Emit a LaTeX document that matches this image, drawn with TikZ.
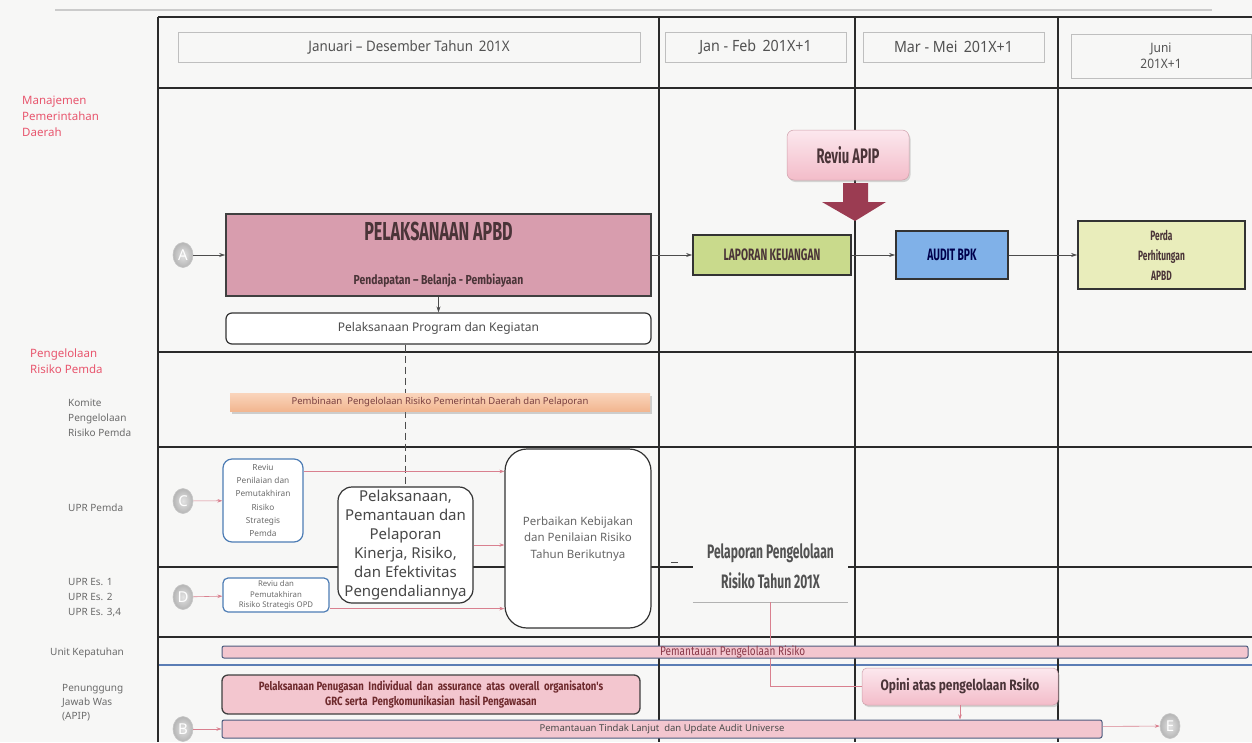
\documentclass[tikz,border=0pt]{standalone}
\usepackage{fontspec}
\setmainfont{Noto Sans}
\newfontfamily\condfont[FakeStretch=0.62]{Fira Sans}
\newfontfamily\midcond[FakeStretch=0.8]{Fira Sans}
\newfontfamily\narrowfont[FakeStretch=0.92]{Noto Sans}
\usetikzlibrary{arrows.meta,shadows,calc,shapes.geometric}

\definecolor{paper}{HTML}{F7F7F6}
\definecolor{lblred}{HTML}{E8566E}
\definecolor{lblgray}{HTML}{6B6B6B}
\definecolor{gridline}{HTML}{2A2A2A}
\definecolor{apbdpink}{HTML}{D89DAE}
\definecolor{inkbrown}{HTML}{4A3438}
\definecolor{lapgreen}{HTML}{C9DA8C}
\definecolor{bpkblue}{HTML}{80B1E8}
\definecolor{perdayellow}{HTML}{E9EDBB}
\definecolor{apiptop}{HTML}{FCE8EE}
\definecolor{apipbot}{HTML}{F3BCC9}
\definecolor{arrowred}{HTML}{9B3C52}
\definecolor{peachtop}{HTML}{FAD5BC}
\definecolor{peachbot}{HTML}{F2B690}
\definecolor{riskblue}{HTML}{4E7DB5}
\definecolor{barpink}{HTML}{F3C6CF}
\definecolor{barline}{HTML}{4D5C7E}
\definecolor{linkred}{HTML}{D9808F}
\definecolor{lanesep}{HTML}{5B7DB5}
\definecolor{barink}{HTML}{8B3A4A}
\definecolor{guideink}{HTML}{7A4040}

\tikzset{
  gridrule/.style={draw=gridline, line width=1.1pt},
  hdrbox/.style={draw=gray!50, line width=0.6pt, minimum height=30, inner sep=2pt,
    text=black!68, font=\narrowfont\fontsize{15.5}{18}\selectfont, align=center},
  redlbl/.style={anchor=north west, inner sep=0pt, align=left, text=lblred,
    font=\fontsize{11.5}{16}\selectfont},
  graylbl/.style={anchor=north west, inner sep=0pt, align=left, text=lblgray,
    font=\fontsize{10}{15}\selectfont},
  letter/.style={ellipse, minimum width=20, minimum height=25, inner sep=0pt,
    draw=gray!45, line width=0.6pt, inner color=gray!22, outer color=gray!58,
    text=white, font=\bfseries\fontsize{15}{15}\selectfont},
  darkbox/.style={draw=black!80, line width=1.8pt, inner sep=2pt, align=center,
    text=inkbrown, font=\condfont\bfseries\fontsize{16.5}{18}\selectfont},
  roundbox/.style={draw=black!80, line width=1.2pt, rounded corners=6, fill=white,
    align=center, inner sep=1pt},
  riskbox/.style={draw=riskblue, line width=1.2pt, rounded corners=9, fill=white,
    align=center, text=lblgray, inner sep=1pt, font=\fontsize{8.3}{13.2}\selectfont},
  pinkbar/.style={draw=barline, line width=1pt, rounded corners=2, fill=barpink,
    inner sep=0pt, align=center},
  softbox/.style={rounded corners=7, draw=apipbot!85!black, line width=0.5pt,
    top color=apiptop, bottom color=apipbot, align=center, inner sep=2pt,
    drop shadow={shadow xshift=1.5pt, shadow yshift=-2pt, opacity=0.3}},
  flow/.style={draw=gray!60!black, line width=0.6pt, -{Stealth[length=6pt,width=4pt]}},
  risklink/.style={draw=linkred, line width=0.6pt, -{Stealth[length=5pt,width=3.5pt]}},
}

\begin{document}
\begin{tikzpicture}[x=1pt,y=-1pt]
% paper
\fill[paper] (0,0) rectangle (1252,742);
\useasboundingbox (0,0) rectangle (1252,742);

% faint rule across the top
\draw[gray!55, line width=2.2pt, opacity=0.7] (55,10) -- (1212,10);

% swimlane grid
\draw[gridrule] (158,17) -- (1252,17);
\foreach \yy in {88,352,447,567,637} \draw[gridrule] (158,\yy) -- (1252,\yy);
\draw[lanesep, line width=1.2pt] (158,665) -- (1252,665);
\foreach \xx in {158,659,855,1058} \draw[gridrule] (\xx,17) -- (\xx,742);

% period headers
\node[hdrbox, minimum width=462, font=\narrowfont\fontsize{14.5}{18}\selectfont] (hjan) at (409,47) {Januari – Desember Tahun\, 201X};
\node[hdrbox, minimum width=181] (hjf) at (755.5,47) {Jan - Feb\, 201X+1};
\node[hdrbox, minimum width=181] (hmm) at (953.5,47) {Mar - Mei\, 201X+1};
\node[hdrbox, minimum width=180, minimum height=44,
  font=\narrowfont\fontsize{13}{16}\selectfont] (hjun) at (1161,56) {Juni\\201X+1};

% lane labels
\node[redlbl] (lmgmt) at (22,96) {Manajemen\\Pemerintahan\\Daerah};
\node[redlbl] (lrisk) at (30,349) {Pengelolaan\\Risiko Pemda};
\node[graylbl] (lkomite) at (68,399) {Komite\\Pengelolaan\\Risiko Pemda};
\node[graylbl, anchor=west] (lupr) at (68,508) {UPR Pemda};
\node[graylbl] (lupres) at (68,578) {UPR Es. 1\\UPR Es. 2\\UPR Es. 3,4};
\node[graylbl, anchor=west] (lunit) at (50,653) {Unit Kepatuhan};
\node[graylbl, font=\fontsize{10}{14}\selectfont] (lpj) at (62,684) {Penunggung\\Jawab Was\\(APIP)};

% budget execution lane
\node[letter] (A) at (183,255) {A};
\node[draw=black!75, line width=1.6pt, fill=apbdpink, minimum width=425, minimum height=82,
  align=center, text=inkbrown, inner sep=0pt,
  font=\midcond\bfseries\fontsize{13}{44}\selectfont] (apbd) at (438.5,255)
  {{\condfont\fontsize{26}{28}\selectfont PELAKSANAAN APBD}\\Pendapatan – Belanja - Pembiayaan};
\node[roundbox, minimum width=425, minimum height=31, text=black!70,
  font=\fontsize{12}{14}\selectfont] (prog) at (438.5,328.5) {Pelaksanaan Program dan Kegiatan};
\node[darkbox, fill=lapgreen, minimum width=158, minimum height=40] (lap) at (772,255) {LAPORAN KEUANGAN};
\node[darkbox, fill=bpkblue, minimum width=112, minimum height=48, text=black!70!blue] (bpk) at (952,255) {AUDIT BPK};
\node[darkbox, fill=perdayellow, minimum width=167, minimum height=68,
  font=\condfont\bfseries\fontsize{13.5}{20}\selectfont] (perda) at (1161.5,255) {Perda\\Perhitungan\\APBD};
\node[softbox, minimum width=122, minimum height=50, text=inkbrown,
  font=\condfont\bfseries\fontsize{21}{22}\selectfont] (apip) at (848,155) {Reviu APIP};

% block arrow from the review onto the reports
\coordinate (tip) at (855,221);
\fill[arrowred] (843,183) -- (868,183) -- (868,202) -- (886,202) -- (tip) -- (822,202) -- (843,202) -- cycle;

\draw[flow] (A) -- (apbd);
\draw[flow] (apbd) -- (lap);
\draw[flow] (lap) -- (bpk);
\draw[flow] (bpk) -- (perda);
\draw[flow] (apbd.south) -- (prog.north);

% risk owner lanes
\node[letter] (C) at (183,501) {C};
\node[riskbox, minimum width=80, minimum height=83] (rev1) at (263,500.5)
  {Reviu\\Penilaian dan\\Pemutakhiran\\Risiko\\Strategis\\Pemda};
\node[roundbox, rounded corners=14, minimum width=135, minimum height=116, inner sep=0pt,
  text=black!72, font=\fontsize{15}{19}\selectfont] (pelak) at (405.5,545)
  {Pelaksanaan,\\Pemantauan dan\\Pelaporan\\Kinerja, Risiko,\\dan Efektivitas\\Pengendaliannya};
\node[roundbox, rounded corners=22, minimum width=146, minimum height=179, text=black!60,
  font=\fontsize{11.5}{16.5}\selectfont] (perb) at (578,538.5)
  {Perbaikan Kebijakan\\dan Penilaian Risiko\\Tahun Berikutnya};
\node[fill=paper, minimum width=155, minimum height=72, inner sep=0pt, align=center,
  text=black!68, font=\condfont\bfseries\fontsize{19.5}{30}\selectfont] (pelap) at (770.5,566)
  {Pelaporan Pengelolaan\\Risiko Tahun 201X};
\draw[gray!60, line width=0.8pt] (pelap.south west) -- (pelap.south east);
\draw[black!70, line width=0.9pt] ($(pelap.west)+(-22,-4)$) -- ++(7,0);
\node[letter] (D) at (183,597) {D};
\node[riskbox, rounded corners=5, minimum width=106, minimum height=34,
  font=\fontsize{7.8}{10.8}\selectfont] (rev2) at (276,595)
  {Reviu dan\\Pemutakhiran\\Risiko Strategis OPD};

% dashed link from the programme box down to the monitoring box
\draw[black!70, line width=0.8pt, dash pattern=on 7pt off 4pt] (prog.south -| pelak.north) -- (pelak.north);

% committee guidance bar
\node[top color=peachtop, bottom color=peachbot,
  drop shadow={shadow xshift=1.5pt, shadow yshift=-2.5pt, opacity=0.35},
  minimum width=420, minimum height=18, inner sep=0pt, text=guideink,
  font=\fontsize{9.5}{11}\selectfont] (pemb) at (440,402)
  {Pembinaan\ \ Pengelolaan Risiko Pemerintah Daerah dan Pelaporan};

\coordinate (r1out) at ($(rev1.north east)+(0,13)$);
\coordinate (r2out) at ($(rev2.south east)+(0,-4)$);
\draw[risklink] (C) -- (rev1);
\draw[risklink] (D) -- (rev2);
\draw[risklink] (r1out) -- (r1out -| perb.west);
\draw[risklink] (pelak.east) -- (pelak.east -| perb.west);
\draw[risklink] (r2out) -- (r2out -| perb.west);

% compliance and internal audit lanes
\node[softbox, rounded corners=5, minimum width=196, minimum height=37, text=inkbrown,
  font=\midcond\bfseries\fontsize{15}{17}\selectfont] (opini) at (960,686.5) {Opini atas pengelolaan Rsiko};
\draw[linkred, line width=0.6pt] (pelap.south) -- (pelap.south |- opini.west) -- (opini.west);

\node[pinkbar, minimum width=1026, minimum height=12] (pemrisk) at (735,652) {};
\node[anchor=west, inner sep=0pt, text=barink,
  font=\midcond\fontsize{12.5}{13}\selectfont] (pemrisktxt) at (660,652) {Pemantauan Pengelolaan Risiko};
\node[pinkbar, rounded corners=6, draw=black!75, line width=1.3pt, minimum width=418,
  minimum height=39, text=inkbrown!80!red,
  font=\midcond\bfseries\fontsize{12}{15}\selectfont] (penug) at (431,694.5)
  {Pelaksanaan Penugasan\ \ Individual\ \ dan\ \ assurance\ \ atas\ \ overall\ \ organisaton's\\GRC serta\ \ Pengkomunikasian\ \ hasil Pengawasan};
\node[pinkbar, minimum width=880, minimum height=18, text=black!70,
  font=\fontsize{9.5}{11}\selectfont] (pemtl) at (662,729)
  {Pemantauan Tindak Lanjut\ \ dan Update Audit Universe};
\node[letter] (B) at (183,729) {B};
\node[letter] (E) at (1170,726) {E};
\draw[risklink] (B) -- (pemtl);
\draw[risklink] (pemtl) -- (E);
\draw[risklink] (opini.south) -- (opini.south |- pemtl.north);
\end{tikzpicture}
\end{document}
